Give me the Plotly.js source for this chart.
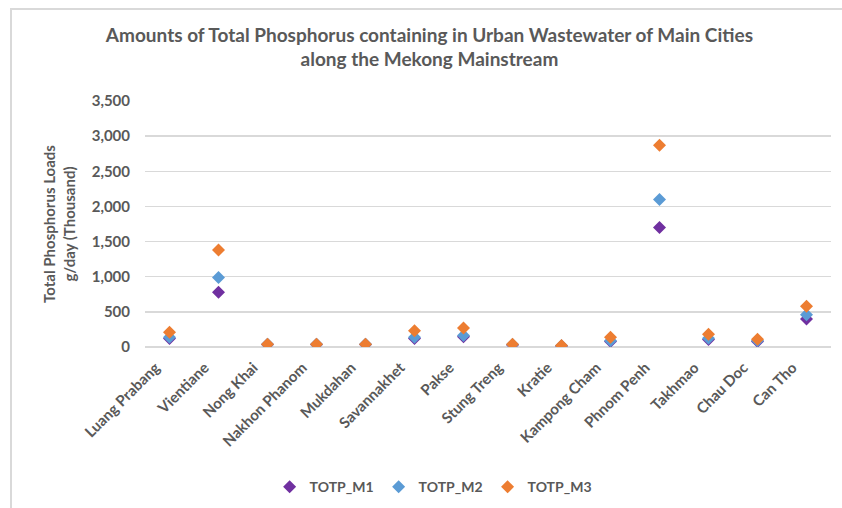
<!DOCTYPE html>
<html><head><meta charset="utf-8">
<script src="https://cdn.plot.ly/plotly-3.0.1.min.js"></script>
<style>
html,body{margin:0;padding:0;background:#fff;}
#frame{position:absolute;left:10px;top:8px;width:840px;height:510px;border-left:2px solid #d9d9d9;border-top:2px solid #d9d9d9;box-sizing:border-box;pointer-events:none;}
#chart{position:absolute;left:0;top:0;width:842px;height:508px;}
</style></head>
<body>
<div id="chart"></div>
<div id="frame"></div>
<script>
const cities = ["Luang Prabang","Vientiane","Nong Khai","Nakhon Phanom","Mukdahan","Savannakhet","Pakse","Stung Treng","Kratie","Kampong Cham","Phnom Penh","Takhmao","Chau Doc","Can Tho"];
const totpM1 = [120, 780, 35, 35, 35, 120, 145, 30, 15, 80, 1700, 105, 80, 400];
const totpM2 = [140, 990, 38, 38, 38, 140, 165, 35, 18, 90, 2100, 125, 90, 460];
const totpM3 = [210, 1380, 40, 40, 40, 230, 270, 40, 20, 140, 2870, 180, 110, 580];
const yTicks = [0, 500, 1000, 1500, 2000, 2500, 3000, 3500];

const FONT = "Lato, 'Open Sans', sans-serif";
const GRAY = "#595959";
function tr(name, y, color){
  return {type:"scatter", mode:"markers", name:name, x:cities, y:y,
    marker:{symbol:"diamond", size:10, color:color}};
}
const data = [tr("TOTP_M1", totpM1, "#7030a0"), tr("TOTP_M2", totpM2, "#5b9bd5"), tr("TOTP_M3", totpM3, "#ed7d31")];
const layout = {
  width:842, height:508,
  margin:{l:145, r:11, t:101, b:161, autoexpand:false},
  paper_bgcolor:"#fff", plot_bgcolor:"#fff",
  font:{family:FONT, color:GRAY, size:14},
  title:{text:"<b>Amounts of Total Phosphorus containing in Urban Wastewater of Main Cities<br>along the Mekong Mainstream</b>",
    x:0.51, xanchor:"center", y:0.918, yanchor:"top", font:{family:FONT, size:19, color:GRAY}},
  xaxis:{type:"category", tickangle:-45, showgrid:false, zeroline:false, showline:false, automargin:false,
    tickfont:{family:FONT, size:15, color:GRAY, weight:"bold"}, ticks:"", range:[-0.5, 13.5],
    ticklabelshift:-14, ticklabelstandoff:8},
  yaxis:{range:[0,3500], tickvals:yTicks, ticktext:yTicks.map(v=>v.toLocaleString("en-US")), automargin:false,
    showgrid:true, gridcolor:"#d9d9d9", gridwidth:1.5, zeroline:true, zerolinecolor:"#d9d9d9", zerolinewidth:1.5,
    showline:false, ticks:"", ticklen:0, ticklabelstandoff:14, tickfont:{family:FONT, size:15, color:GRAY, weight:"bold"},
    title:{text:"<b>Total Phosphorus Loads<br>g/day (Thousand)</b>", font:{family:FONT, size:15, color:GRAY}, standoff:12}},
  showlegend:true,
  legend:{orientation:"h", x:0.42, xanchor:"center", y:-0.57, yanchor:"middle",
    font:{family:FONT, size:14, color:GRAY, weight:"bold"}, itemwidth:30, tracegroupgap:0}
};
Plotly.newPlot("chart", data, layout, {displayModeBar:false, staticPlot:true});
</script>
</body></html>
